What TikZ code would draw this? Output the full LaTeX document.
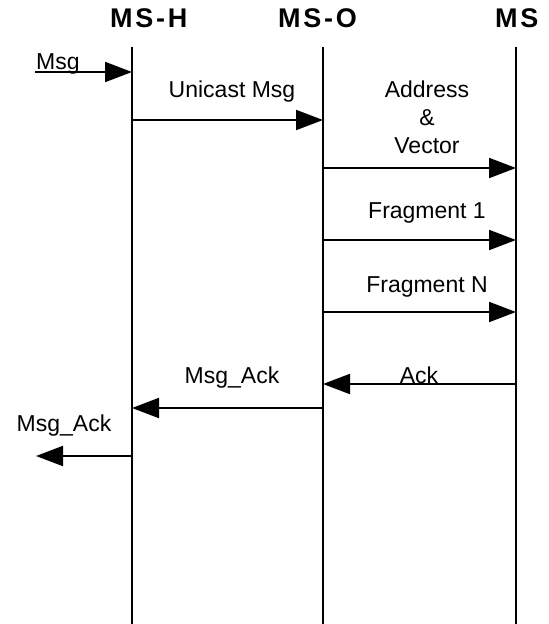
\documentclass[tikz,border=0pt]{standalone}
\usepackage{fontspec}
\setmainfont{Liberation Sans}
\usetikzlibrary{arrows.meta}
\begin{document}
\begin{tikzpicture}[x=1pt,y=-1pt,
  life/.style={line width=2pt},
  msg/.style={line width=2pt,-{Triangle[length=27pt,width=20pt]}},
  lbl/.style={inner sep=0pt,anchor=base,font=\fontsize{23}{28}\selectfont},
  head/.style={inner sep=0pt,anchor=base west,font=\fontsize{27}{32}\selectfont\bfseries\addfontfeature{LetterSpace=10}}]
\useasboundingbox (0,0) rectangle (549,624);
% headers
\node[head] (hH) at (110,27) {MS-H};
\node[head] (hO) at (278,27) {MS-O};
\node[head] (hM) at (495,27) {MS};
% lifelines
\coordinate (Ht) at (132,47); \coordinate (Hb) at (132,624);
\coordinate (Ot) at (323,47); \coordinate (Ob) at (323,624);
\coordinate (Mt) at (516,47); \coordinate (Mb) at (516,624);
\draw[life] (Ht) -- (Hb);
\draw[life] (Ot) -- (Ob);
\draw[life] (Mt) -- (Mb);
% message end points
\coordinate (in1) at (35,72);  \coordinate (H72) at (132,72);
\coordinate (H120) at (132,120); \coordinate (O120) at (323,120);
\coordinate (O168) at (323,168); \coordinate (M168) at (516,168);
\coordinate (O240) at (323,240); \coordinate (M240) at (516,240);
\coordinate (O312) at (323,312); \coordinate (M312) at (516,312);
\coordinate (M384) at (516,384); \coordinate (O384) at (323,384);
\coordinate (O408) at (323,408); \coordinate (H408) at (132,408);
\coordinate (H456) at (132,456); \coordinate (out1) at (36,456);
% messages
\draw[msg] (in1) -- (H72);
\draw[msg] (H120) -- (O120);
\draw[msg] (O168) -- (M168);
\draw[msg] (O240) -- (M240);
\draw[msg] (O312) -- (M312);
\draw[msg] (M384) -- (O384);
\draw[msg] (O408) -- (H408);
\draw[msg] (H456) -- (out1);
% labels
\node[lbl,anchor=base west] (lMsg) at (36,69) {Msg};
\node[lbl] (lUni) at (232,97) {Unicast Msg};
\node[lbl] (lAd1) at (427,97) {Address};
\node[lbl] (lAd2) at (427,125) {\&};
\node[lbl] (lAd3) at (427,153) {Vector};
\node[lbl] (lF1) at (427,218) {Fragment 1};
\node[lbl] (lFN) at (427,292) {Fragment N};
\node[lbl] (lAck) at (419,383) {Ack};
\node[lbl] (lMA1) at (232,383) {Msg\_Ack};
\node[lbl] (lMA2) at (64,431) {Msg\_Ack};
\end{tikzpicture}
\end{document}
